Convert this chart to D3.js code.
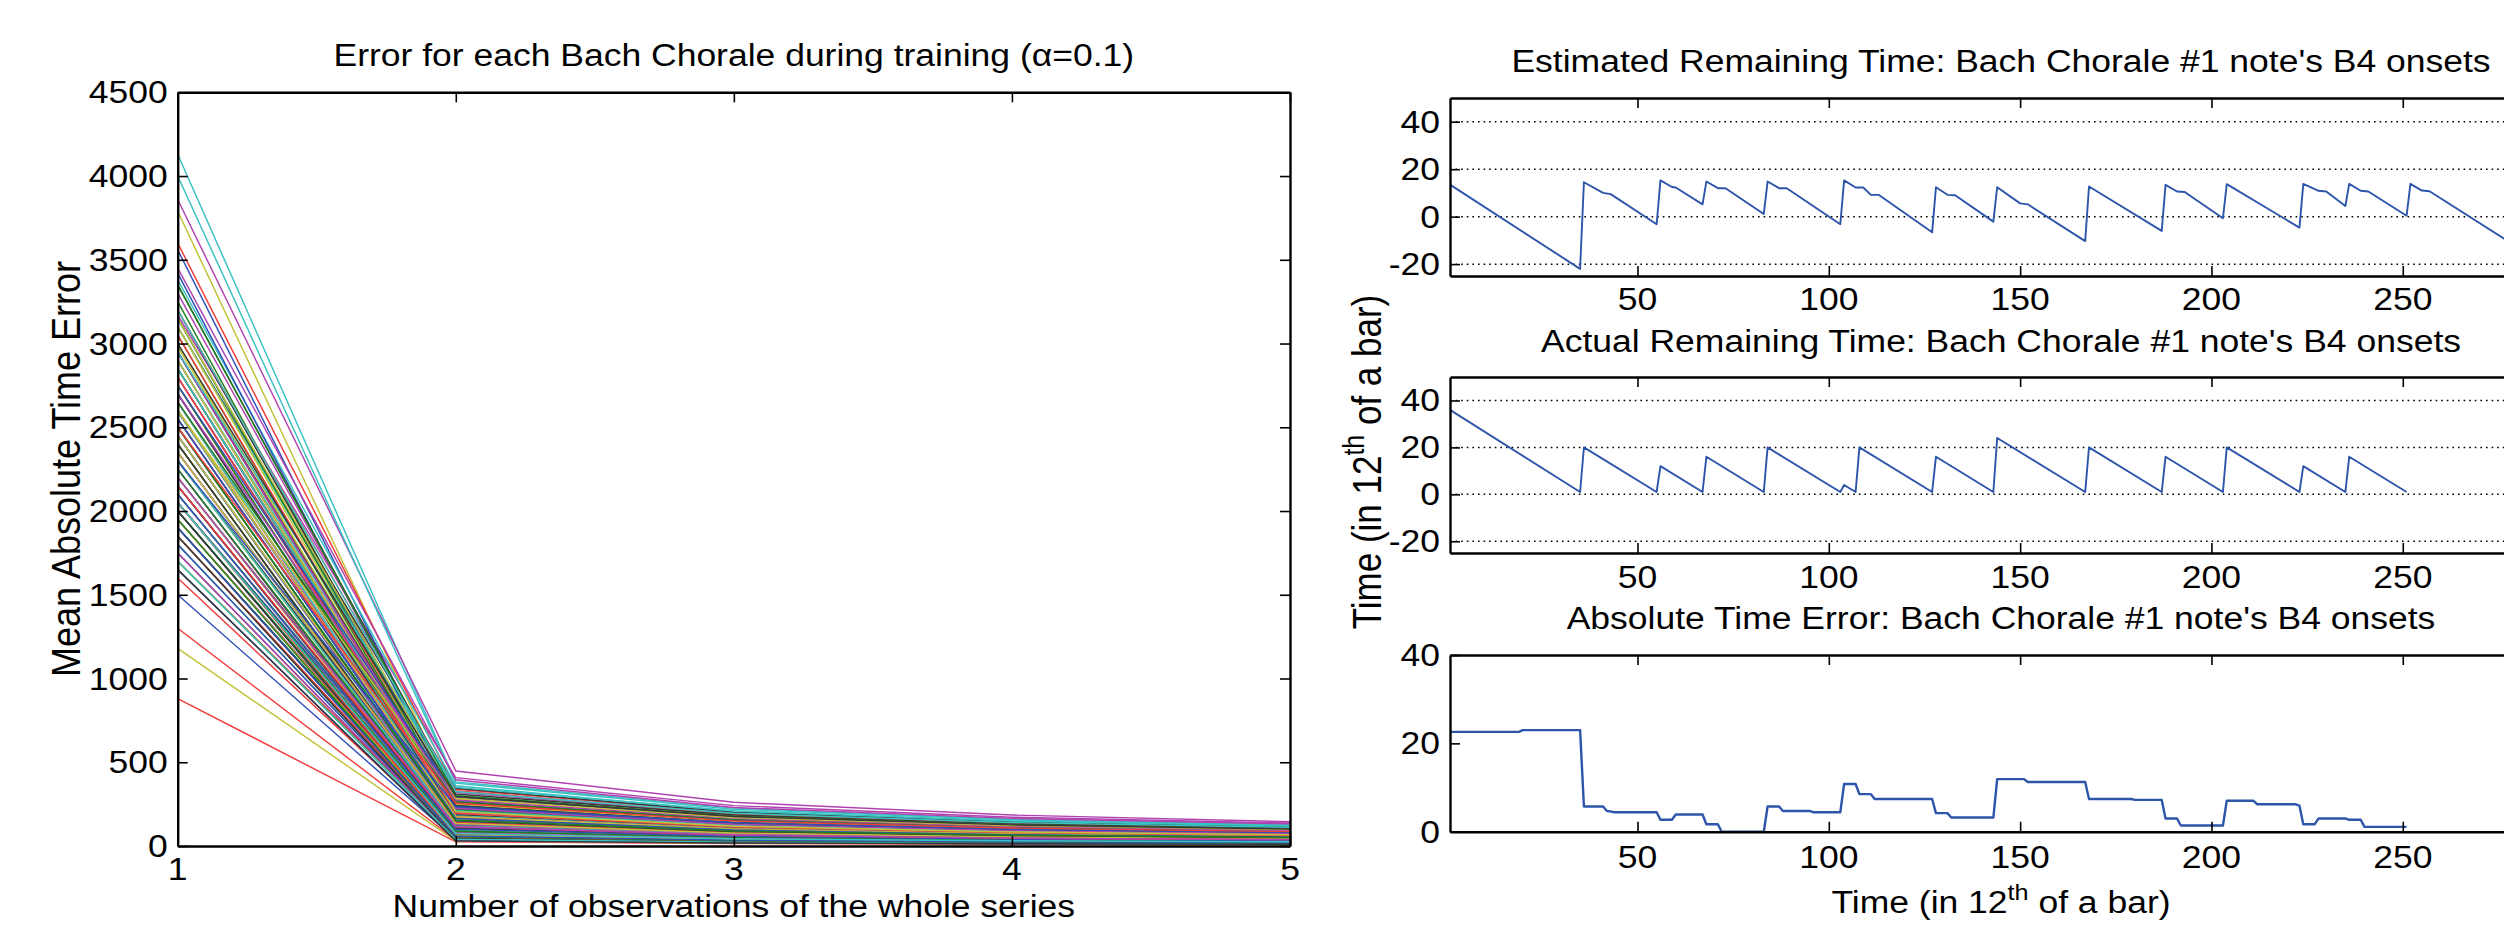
<!DOCTYPE html>
<html><head><meta charset="utf-8">
<script src="https://cdn.jsdelivr.net/npm/d3@7"></script>
<style>
body{margin:0;background:#fff}
svg{display:block;background:#fff}
text{font-family:"Liberation Sans",Arial,Helvetica,sans-serif;fill:#000}
</style>
</head><body>
<svg id="chart" width="2504" height="928"></svg>
<script>
// ---------------- DATA ----------------
// Left chart: mean absolute time error per chorale, for observation counts 1..5
const observations = [1, 2, 3, 4, 5];
const obs1 = [
2050,2300,880,4130,3860,1180,2450,
1500,2600,1300,4000,3170,3790,2900,
3560,3250,3600,3380,2850,2980,2200,
3420,2100,1700,2590,2750,2500,3100,
2150,3050,2950,2450,2000,3000,2650,
1950,1850,2400,3100,2900,2400,2050,
2700,2950,2250,2000,2650,2750,1750,
2600,2150,2700,2200,2300,1800,2300,
2850,2400,1600,2900,1900,2300,2800,
2250,1700,3050,1800,2450,2850,2550,
2000,2750,2100,2350,3300,2050,1900,
2450,2000,2550,2700,2150,2650,3200,
1800,2550,2850,1950,2550,1700,2000,
2950,1900,1850,2500,1750,3100,2400,
2350,2850,2350,2100,2800,2200,2700,
1650,2250,1950,2650,2050,2450,1850,
3150,2050,2600,2850,2600,1950,2150,
2100,3150,2050,1700,2350,2600,2950,
2550,1950,2800,2300,2950,2350,2500,
1900,2500,2150,2050,2200,2900,1650,
2750,2650,3200,2950,3450,2600,3350,
2300,3350,2500,3200,2700,3150,3000];
const obs2 = [
120,150,25,383,448,30,160,
40,180,35,375,408,260,200,
250,220,340,360,190,240,130,
245,110,60,170,185,150,345,
95,230,205,140,70,215,175,
80,60,130,300,210,125,90,
190,235,100,85,160,195,50,
175,105,180,115,120,55,140,
215,135,45,250,65,110,225,
110,45,255,55,145,230,165,
70,200,90,150,320,80,75,
160,85,170,195,100,180,265,
50,165,210,70,170,40,60,
230,70,65,160,50,250,125,
130,215,140,95,200,100,185,
35,120,75,180,80,165,45,
270,90,175,210,165,65,105,
100,240,55,40,130,175,240,
165,55,195,120,225,135,150,
60,155,115,75,115,205,30,
290,265,330,350,395,280,310,
235,300,255,325,275,285,295];
const obs3 = [
70,85,15,226,261,18,95,
25,105,20,220,241,150,118,
145,128,195,205,110,140,75,
142,62,35,98,106,86,200,
55,133,118,80,40,124,100,
46,35,75,172,120,72,52,
110,136,58,48,92,112,30,
100,60,104,66,70,32,80,
124,78,26,145,38,63,130,
64,26,148,32,84,133,95,
40,116,52,86,186,46,43,
92,49,98,112,58,104,153,
29,95,122,40,98,23,35,
133,40,38,92,29,145,72,
75,124,81,55,116,58,107,
20,69,43,104,46,95,26,
156,52,101,122,95,37,61,
58,139,32,23,75,101,139,
95,32,113,69,130,78,87,
35,90,66,43,66,118,18,
175,160,190,210,230,168,185,
140,178,150,195,165,170,176];
const obs4 = [
50,60,11,160,185,13,68,
18,75,14,156,172,107,84,
103,91,138,146,78,100,53,
101,44,25,70,75,61,142,
39,95,84,57,28,88,71,
33,25,53,122,85,51,37,
78,97,41,34,65,80,21,
71,43,74,47,50,23,57,
88,55,18,103,27,45,92,
45,18,105,23,60,95,67,
28,82,37,61,132,33,31,
65,35,70,80,41,74,109,
21,67,87,28,70,16,25,
95,28,27,65,21,103,51,
53,88,58,39,82,41,76,
14,49,31,74,33,67,18,
111,37,72,87,67,26,43,
41,99,23,16,53,72,99,
67,23,80,49,92,55,62,
25,64,47,31,47,84,13,
125,115,135,150,165,120,132,
100,127,107,140,118,122,126];
const obs5 = [
40,48,9,128,145,10,54,
14,60,11,125,137,86,67,
82,73,110,117,62,80,42,
81,35,20,56,60,49,114,
31,76,67,46,22,70,57,
26,20,42,98,68,41,30,
62,78,33,27,52,64,17,
57,34,59,38,40,18,46,
70,44,14,82,22,36,74,
36,14,84,18,48,76,54,
22,66,30,49,106,26,25,
52,28,56,64,33,59,87,
17,54,70,22,56,13,20,
76,22,22,52,17,82,41,
42,70,46,31,66,33,61,
11,39,25,59,26,54,14,
89,30,58,70,54,21,34,
33,79,18,13,42,58,79,
54,18,64,39,74,44,50,
20,51,38,25,38,67,10,
100,92,108,120,132,96,106,
80,102,86,112,94,98,101];
const leftYTicks = [0,500,1000,1500,2000,2500,3000,3500,4000,4500];
const lineColors = ["#3050b8","#1f801f","#f23b3b","#38c2c2","#b143b1","#c2c238","#383838"];

// Right charts: time in 12ths of a bar
const estT = [1,35,36,41,43,55,56,59,60,67,68,71,73,83,84,87,89,103,104,107,109,111,113,127,128,131,133,143,144,150,152,167,168,187,188,191,193,203,204,223,224,228,230,235,236,239,241,251,252,255,257,285];
const estV = [13.5,-22,14.5,10,9.5,-3.2,15.3,12.5,12.3,5.2,14.8,12,12,1.1,14.8,12,12,-3.2,15.3,12.3,12.3,9.2,9.2,-6.6,12.4,9.2,9,-2.1,12.4,5.6,5.2,-10.3,12.7,-6,13.4,10.6,10.4,-0.7,13.7,-4.6,13.8,10.9,10.6,4.5,13.8,10.9,10.6,0.4,13.8,11,10.7,-18];
const actT = [1,35,36,55,56,67,68,83,84,103,104,107,108,127,128,143,144,167,168,187,188,203,204,223,224,235,236,251];
const actV = [36,1,20,1,12,1,16,1,20,1,4,1,20,1,16,1,24,1,20,1,16,1,20,1,12,1,16,1];
const errT = [1,19,20,35,36,41,42,44,55,56,59,60,67,68,71,72,83,84,87,88,95,96,103,104,107,108,111,112,127,128,131,132,143,144,151,152,167,168,179,180,187,188,191,192,203,204,211,212,222,223,224,227,228,235,236,239,240,251];
const errV = [22.6,22.6,23,23,5.7,5.7,4.7,4.4,4.4,2.7,2.7,3.9,3.9,1.7,1.7,0,0,5.7,5.7,4.7,4.7,4.4,4.4,10.8,10.8,8.5,8.5,7.4,7.4,4.2,4.2,3.2,3.2,11.9,11.9,11.25,11.25,7.4,7.4,7.2,7.2,3.0,3.0,1.4,1.4,7.0,7.0,6.2,6.2,5.9,1.7,1.7,3.0,3.0,2.7,2.7,1.1,1.1];
const timeTicks = [50,100,150,200,250];
const remTicks = [-20,0,20,40];
const errTicks = [0,20,40];
const lineBlue = "#2d55aa";

// ---------------- DRAWING ----------------
const svg = d3.select("#chart");
const SX = 1.145;

function label(g, x, y, str, opts = {}) {
  const size = opts.size || 31;
  const t = g.append("text")
    .attr("transform", `translate(${x},${y}) scale(${SX},1)` + (opts.rotate ? ` rotate(${opts.rotate})` : ""))
    .attr("text-anchor", opts.anchor || "middle")
    .style("font-size", size + "px");
  if (str !== null) t.text(str);
  return t;
}

function drawAxes(g, x, y, xTicks, yTicks, xLabelOffset) {
  const [x0, x1] = x.range();
  const [y0, y1] = y.range();
  const style = sel => {
    sel.select(".domain").attr("stroke", "#000").attr("stroke-width", 2.4);
    sel.selectAll(".tick line").attr("stroke", "#000").attr("stroke-width", 1.6);
  };
  g.append("g").attr("transform", `translate(0,${y0})`)
    .call(d3.axisBottom(x).tickValues(xTicks).tickSize(-10).tickSizeOuter(0).tickFormat("")).call(style);
  g.append("g").attr("transform", `translate(0,${y1})`)
    .call(d3.axisTop(x).tickValues(xTicks).tickSize(-10).tickSizeOuter(0).tickFormat("")).call(style);
  g.append("g").attr("transform", `translate(${x0},0)`)
    .call(d3.axisLeft(y).tickValues(yTicks).tickSize(-10).tickSizeOuter(0).tickFormat("")).call(style);
  g.append("g").attr("transform", `translate(${x1},0)`)
    .call(d3.axisRight(y).tickValues(yTicks).tickSize(-10).tickSizeOuter(0).tickFormat("")).call(style);
  xTicks.forEach(v => label(g, x(v), y0 + xLabelOffset + 11, String(v)));
  yTicks.forEach(v => label(g, x0 - 10, y(v) + 11, String(v), {anchor: "end"}));
}

// ---- Left chart ----
const gL = svg.append("g");
const xL = d3.scaleLinear().domain([1, 5]).range([177.7, 1290]);
const yL = d3.scaleLinear().domain([0, 4500]).range([846, 92.3]);
const chorales = obs1.map((v, j) => [obs1[j], obs2[j], obs3[j], obs4[j], obs5[j]]);
const lineL = d3.line().x((d, i) => xL(observations[i])).y(d => yL(d));
gL.append("g").selectAll("path").data(chorales).join("path")
  .attr("d", lineL).attr("fill", "none")
  .attr("stroke", (d, i) => lineColors[i % lineColors.length])
  .attr("stroke-width", 1.45);
drawAxes(gL, xL, yL, observations, leftYTicks, 23);
label(gL, 733.8, 66, "Error for each Bach Chorale during training (α=0.1)");
label(gL, 733.8, 917, "Number of observations of the whole series");
label(gL, 80, 469, "Mean Absolute Time Error", {size: 36, rotate: -90});

// ---- Right charts ----
const gR = svg.append("g");
const xR = d3.scaleLinear().domain([1, 289]).range([1450, 2552]);
const panels = [
  {top: 98, bottom: 276, domain: [-25, 50], ticks: remTicks, T: estT, V: estV, grid: true,
   title: "Estimated Remaining Time: Bach Chorale #1 note's B4 onsets", titleY: 72, off: 23, w: 1.9},
  {top: 377, bottom: 553, domain: [-25, 50], ticks: remTicks, T: actT, V: actV, grid: true,
   title: "Actual Remaining Time: Bach Chorale #1 note's B4 onsets", titleY: 351.5, off: 24, w: 1.9},
  {top: 655, bottom: 831.7, domain: [0, 40], ticks: errTicks, T: errT, V: errV, grid: false,
   title: "Absolute Time Error: Bach Chorale #1 note's B4 onsets", titleY: 628.5, off: 25, w: 2.4}
];
panels.forEach(p => {
  const g = gR.append("g");
  const y = d3.scaleLinear().domain(p.domain).range([p.bottom, p.top]);
  if (p.grid) {
    g.append("g").selectAll("line").data(p.ticks).join("line")
      .attr("x1", xR.range()[0]).attr("x2", xR.range()[1])
      .attr("y1", d => y(d)).attr("y2", d => y(d))
      .attr("stroke", "#000").attr("stroke-width", 1.5).attr("stroke-dasharray", "1.6,4");
  }
  const line = d3.line().x(d => xR(d[0])).y(d => y(d[1]));
  g.append("path").datum(d3.zip(p.T, p.V)).attr("d", line)
    .attr("fill", "none").attr("stroke", lineBlue).attr("stroke-width", p.w).attr("stroke-linejoin", "round");
  drawAxes(g, xR, y, timeTicks, p.ticks, p.off);
  label(g, 2001, p.titleY, p.title);
});
// x label with superscript
{
  const t = label(gR, 2001, 913, null);
  t.append("tspan").text("Time (in 12");
  t.append("tspan").text("th").style("font-size", "22px").attr("dy", -13);
  t.append("tspan").text(" of a bar)").attr("dy", 13);
}
// y label with superscript
{
  const t = label(gR, 1381, 462, null, {size: 35, rotate: -90});
  t.append("tspan").text("Time (in 12");
  t.append("tspan").text("th").style("font-size", "25px").attr("dy", -15);
  t.append("tspan").text(" of a bar)").attr("dy", 15);
}
</script>
</body></html>
